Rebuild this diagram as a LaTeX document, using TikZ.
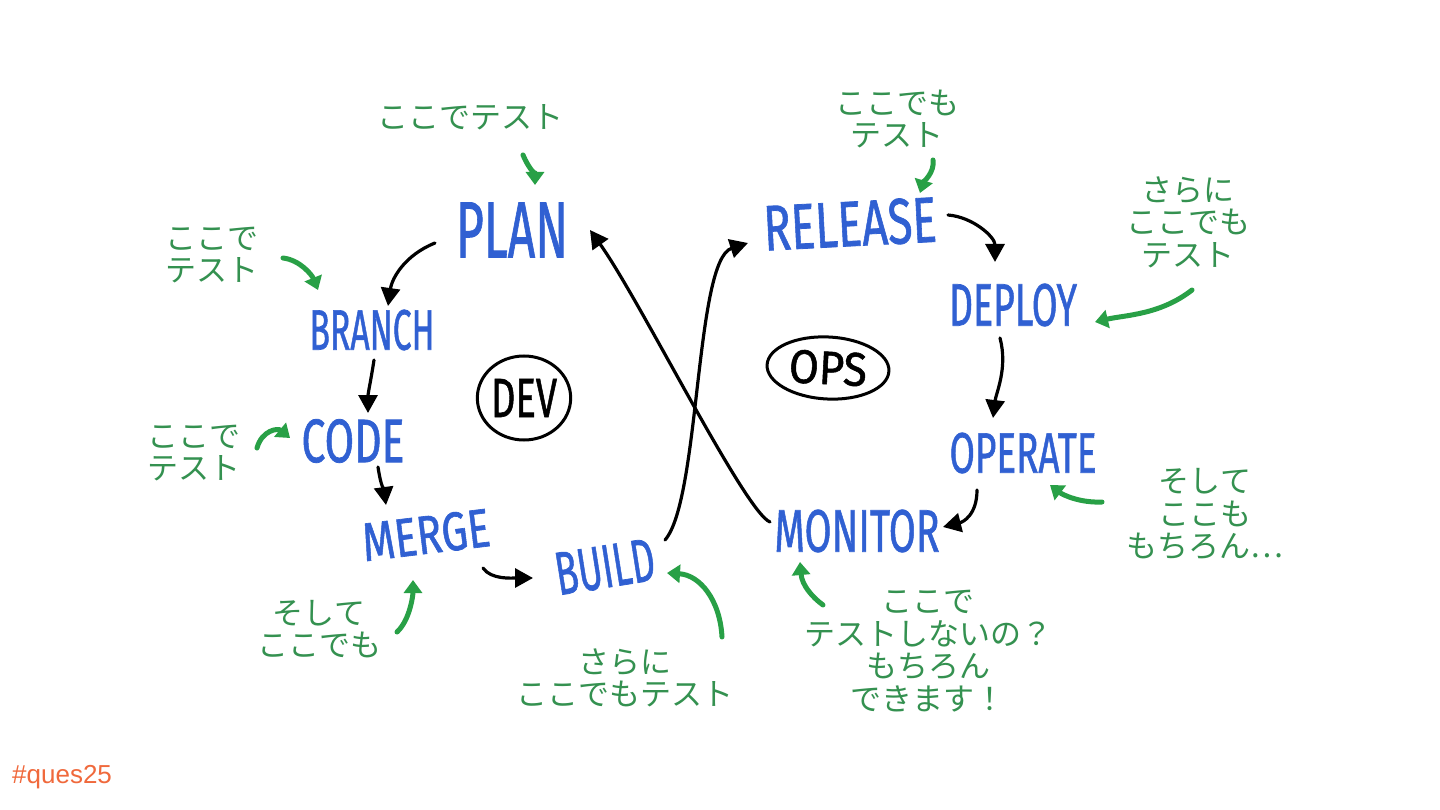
\documentclass[tikz,border=0pt]{standalone}
\usepackage{fontspec}
\usepackage{graphicx}
\usetikzlibrary{arrows.meta,shapes.geometric}
\newfontfamily\jpfont{Noto Sans CJK JP}
\newfontfamily\handfont{Fira Sans}[FakeBold=1.2]
\newfontfamily\tagfont{Liberation Sans}
\definecolor{stageblue}{RGB}{48,96,210}
\definecolor{notegreen}{RGB}{52,145,80}
\definecolor{arrowgreen}{RGB}{40,160,70}
\definecolor{tagorange}{RGB}{240,105,60}
\newcommand{\stagetext}[3]{\resizebox{#1pt}{#2pt}{\handfont #3}}
\tikzset{
  stage/.style={text=stageblue, inner sep=0pt},
  note/.style={text=notegreen, align=center, inner sep=0pt, font=\jpfont\fontsize{31}{32.5}\selectfont},
  blk/.style={draw=black, line width=3.2pt, line cap=round, -{Triangle[length=18pt,width=19pt]}},
  grn/.style={draw=arrowgreen, line width=5pt, line cap=round, -{Triangle[length=13pt,width=18pt]}},
  phase/.style={draw=black, line width=3pt, ellipse, inner sep=0pt},
}
\begin{document}
\begin{tikzpicture}[x=1pt,y=-1pt]
\useasboundingbox[fill=white] (0,0) rectangle (1440,810);

% stage labels
\node[stage] (plan) at (512,230) {\stagetext{112}{55}{PLAN}};
\node[stage] (branch) at (372,330) {\stagetext{125}{40}{BRANCH}};
\node[stage] (code) at (353,441) {\stagetext{103}{43}{CODE}};
\node[stage, rotate=7] (merge) at (426,535) {\stagetext{128}{38}{MERGE}};
\node[stage, rotate=9] (build) at (605,567) {\stagetext{100}{42}{BUILD}};
\node[stage, rotate=3] (release) at (850,224) {\stagetext{173}{45}{RELEASE}};
\node[stage] (deploy) at (1013,305) {\stagetext{128}{42}{DEPLOY}};
\node[stage] (operate) at (1023,453) {\stagetext{147}{40}{OPERATE}};
\node[stage] (monitor) at (857,531) {\stagetext{165}{42}{MONITOR}};

% phase circles
\node[phase, minimum width=92pt, minimum height=84pt] (dev) at (524,398) {\resizebox{66pt}{38pt}{\handfont DEV}};
\node[phase, minimum width=122pt, minimum height=62pt, rotate=-3] (ops) at (828,368) {\resizebox{78pt}{33pt}{\handfont OPS}};

% green notes
\node[note] (n1) at (470,117) {ここでテスト};
\node[note] (n2) at (897,119) {ここでも\\テスト};
\node[note] (n3) at (1188,222) {さらに\\ここでも\\テスト};
\node[note] (n4) at (212,255) {ここで\\テスト};
\node[note] (n5) at (194,453) {ここで\\テスト};
\node[note] (n6) at (319,629) {そして\\ここでも};
\node[note] (n7) at (625,678) {さらに\\ここでもテスト};
\node[note] (n8) at (1205,514) {そして\\ここも\\もちろん…};
\node[note] (n9) at (928,651) {ここで\\テストしないの？\\もちろん\\できます！};

\node[anchor=west, text=tagorange, inner sep=0pt, font=\tagfont\fontsize{26}{28}\selectfont] (tag) at (12,777) {\#ques25};

% black cycle arrows
\draw[blk] ([shift={(-77,13)}]plan.center) .. controls +(-30,12) and +(4,-28) .. ([shift={(16,-24)}]branch.center);
\draw[blk] ([shift={(2,30)}]branch.center) .. controls +(-3,20) and +(0,-20) .. ([shift={(15,-28)}]code.center);
\draw[blk] ([shift={(25,26)}]code.center) .. controls +(3,20) and +(-2,-15) .. ([shift={(-40,-30)}]merge.center);
\draw[blk] ([shift={(57,33)}]merge.center) .. controls +(8,12) and +(-20,0) .. ([shift={(-72,11)}]build.center);
\draw[blk] ([shift={(60,-27)}]build.center) .. controls +(35,-40) and +(-53,17) .. ([shift={(-102,19)}]release.center);
\draw[blk] ([shift={(-87,-9)}]monitor.center) .. controls +(-25,-10) and +(50,70) .. ([shift={(78,0)}]plan.center);
\draw[blk] ([shift={(98,-9)}]release.center) .. controls +(25,2) and +(0,-25) .. ([shift={(-18,-43)}]deploy.center);
\draw[blk] ([shift={(-13,33)}]deploy.center) .. controls +(8,30) and +(3,-25) .. ([shift={(-30,-35)}]operate.center);
\draw[blk] ([shift={(-46,37)}]operate.center) .. controls +(0,25) and +(20,-5) .. ([shift={(86,-4)}]monitor.center);

% green pointer arrows
\coordinate (g1) at (523,155);
\coordinate (g2) at (933,160);
\coordinate (g3) at (1192,290);
\coordinate (g4) at (283,258);
\coordinate (g5) at (257,448);
\coordinate (g6) at (397,632);
\coordinate (g7) at (722,637);
\coordinate (g8) at (1102,502);
\coordinate (g9) at (823,605);
\draw[grn] (g1) .. controls +(5,12) and +(0,-10) .. ([shift={(23,-45)}]plan.center);
\draw[grn] (g2) .. controls +(2,12) and +(3,-10) .. ([shift={(70,-31)}]release.center);
\draw[grn] (g3) .. controls +(-32,25) and +(30,-7) .. ([shift={(82,17)}]deploy.center);
\draw[grn] (g4) .. controls +(17,2) and +(-6,-15) .. ([shift={(-54,-40)}]branch.center);
\draw[grn] (g5) .. controls +(5,-18) and +(-12,-10) .. ([shift={(-63,-3)}]code.center);
\draw[grn] (g6) .. controls +(13,-12) and +(0,15) .. ([shift={(-13,45)}]merge.center);
\draw[grn] (g7) .. controls +(-2,-37) and +(33,2) .. ([shift={(62,6)}]build.center);
\draw[grn] (g8) .. controls +(-22,1) and +(13,10) .. ([shift={(27,32)}]operate.center);
\draw[grn] (g9) .. controls +(-11,-8) and +(2,23) .. ([shift={(-57,31)}]monitor.center);
\end{tikzpicture}
\end{document}
